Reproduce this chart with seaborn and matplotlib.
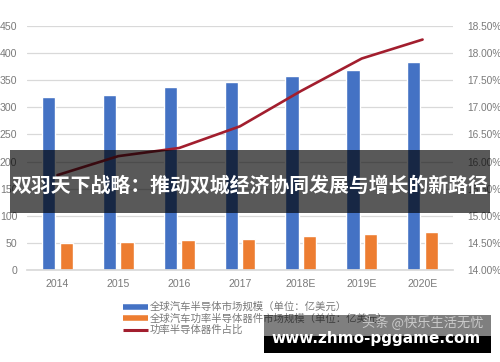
import matplotlib
matplotlib.use("Agg")
import matplotlib.pyplot as plt
import seaborn as sns
import pandas as pd
import numpy as np
from matplotlib.patches import Rectangle
from matplotlib.lines import Line2D

# ---- data ----
years = ["2014", "2015", "2016", "2017", "2018E", "2019E", "2020E"]
market_total = [319, 322, 338, 347, 357, 368, 383]
market_power = [50, 52, 55, 58, 62, 66, 70]
power_share = [15.75, 16.10, 16.25, 16.65, 17.30, 17.90, 18.25]
series_names = ["全球汽车半导体市场规模（单位：亿美元）",
                "全球汽车功率半导体器件市场规模（单位：亿美元）",
                "功率半导体器件占比"]
left_ticks = [0, 50, 100, 150, 200, 250, 300, 350, 400, 450]
right_ticks = [14.0, 14.5, 15.0, 15.5, 16.0, 16.5, 17.0, 17.5, 18.0, 18.5]
banner_title = "双羽天下战略：推动双城经济协同发展与增长的新路径"
site_text = "www.zhmo-pggame.com"
watermark = "头条 @快乐生活无忧"

colors = ["#4472C4", "#ED7D31", "#A21E2E"]
label_color = "#7a7a7a"

sns.set_theme(style="white")
plt.rcParams['font.family'] = ['Liberation Sans', 'Noto Sans CJK SC', 'DejaVu Sans']

df = pd.DataFrame({
    "year": years * 2,
    "value": market_total + market_power,
    "series": [series_names[0]] * len(years) + [series_names[1]] * len(years),
})

W, H = 500, 362
fig = plt.figure(figsize=(W / 100, H / 100), dpi=100)
ax = fig.add_axes([27 / W, 1 - 270 / H, 426 / W, 244 / H])

sns.barplot(data=df, x="year", y="value", hue="series", palette=colors[:2],
            width=0.58, gap=0.25, saturation=1, ax=ax, legend=False)
ax.set_xlim(-0.5, len(years) - 0.5)
ax.set_ylim(0, 450)
ax.set_yticks(left_ticks)
ax.set_yticklabels([str(v) for v in left_ticks])
ax.grid(axis='y', color='#d9d9d9', lw=0.9)
ax.set_axisbelow(True)
ax.set_xlabel("")
ax.set_ylabel("")
for s in ["top", "left", "right"]:
    ax.spines[s].set_visible(False)
ax.spines["bottom"].set_color("#d9d9d9")
ax.tick_params(axis='y', length=0, pad=7, labelsize=7.6, colors=label_color)
ax.tick_params(axis='x', length=0, pad=6.5, labelsize=7.6, colors=label_color)

ax2 = ax.twinx()
sns.lineplot(x=np.arange(len(years)), y=power_share, ax=ax2, color=colors[2], lw=1.9)
ax2.set_ylim(14, 18.5)
ax2.set_yticks(right_ticks)
ax2.set_yticklabels([f"{v:.2f}%" for v in right_ticks])
ax2.set_xlim(-0.5, len(years) - 0.5)
ax2.tick_params(axis='y', length=0, pad=10, labelsize=7.3, colors=label_color)
for s in ax2.spines.values():
    s.set_visible(False)
ax2.grid(False)

handles = [Line2D([0], [0], color=colors[0], lw=4, solid_capstyle='butt'),
           Line2D([0], [0], color=colors[1], lw=4, solid_capstyle='butt'),
           Line2D([0], [0], color=colors[2], lw=2.2, solid_capstyle='butt')]
leg = fig.legend(handles=handles, labels=series_names, loc='upper left',
                 bbox_to_anchor=(123 / W, 1 - 302 / H), frameon=False, fontsize=7.5,
                 handlelength=2.4, handletextpad=0.2, labelspacing=0.12,
                 borderpad=0, borderaxespad=0)
for t in leg.get_texts():
    t.set_color(label_color)

# overlay banner across the middle
fig.add_artist(Rectangle((10 / W, 1 - 213 / H), 480 / W, 63 / H, transform=fig.transFigure,
                         facecolor='black', edgecolor='none', alpha=0.65, zorder=10))
fig.text(250 / W, 1 - 185 / H, banner_title, color='white', fontsize=14.3,
         fontweight='bold', ha='center', va='center',
         family=['Noto Sans CJK SC', 'DejaVu Sans'], zorder=11)

# bottom site box
fig.add_artist(Rectangle((264 / W, 1 - 336 / H), 227 / W, 21 / H, transform=fig.transFigure,
                         facecolor='black', edgecolor='none', alpha=0.5, zorder=10))
fig.add_artist(Rectangle((264 / W, 1 - 353 / H), 227 / W, 17 / H, transform=fig.transFigure,
                         facecolor='black', edgecolor='none', zorder=10))
fig.text(362 / W, 1 - 323 / H, watermark, color='#d8d8d8', alpha=0.85, fontsize=9.5,
         ha='left', va='center', family=['Noto Sans CJK SC', 'DejaVu Sans'], zorder=11)
fig.text(376 / W, 1 - 339 / H, site_text, color='white', fontsize=11,
         fontweight='bold', ha='center', va='center', family='DejaVu Sans', zorder=12)

fig.savefig("out.png", dpi=100)
